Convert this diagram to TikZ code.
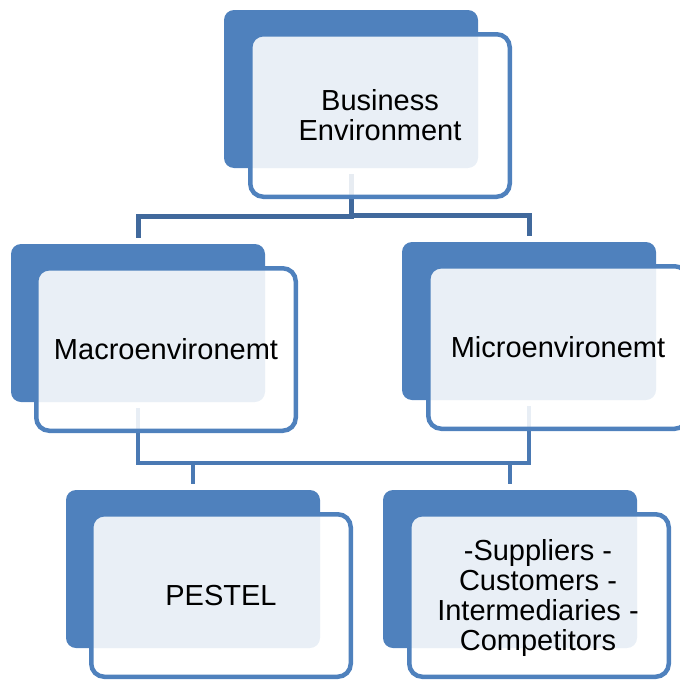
\documentclass[tikz,border=0pt]{standalone}
\usepackage{fontspec}
\setmainfont{Liberation Sans}
\definecolor{accent}{HTML}{4F81BD}
\definecolor{conntop}{HTML}{41699C}
\definecolor{connbot}{HTML}{4A79B3}
\begin{document}
\begin{tikzpicture}[x=1pt,y=-1pt,
  backbox/.style={rectangle, fill=accent, rounded corners=10pt, inner sep=0pt, minimum width=254pt, minimum height=158pt},
  frontbox/.style={rectangle, draw=accent, line width=4.5pt, fill=white, fill opacity=0.88, text opacity=1, rounded corners=13pt, inner sep=0pt, minimum width=259.5pt, minimum height=162.5pt, align=center, font=\fontsize{29pt}{30pt}\selectfont},
  conn/.style={line width=5pt, draw=conntop},
  connb/.style={line width=4.5pt, draw=connbot}]
\useasboundingbox (0,0) rectangle (680,680);
% back boxes
\node[backbox] (tb) at (351,89) {};
\node[backbox] (mab) at (138,323) {};
\node[backbox] (mib) at (529,321) {};
\node[backbox] (pb) at (193,569) {};
\node[backbox] (sb) at (510,569) {};
% connectors
\draw[conn] ([yshift=-6pt]tb.south) -- ++(0,42.5) -| ([yshift=6pt]mab.north);
\draw[conn] ([yshift=-6pt]tb.south) -- ++(0,41) -| ([yshift=6pt]mib.north);
\coordinate (bus) at (0,463);
\draw[connb] ([yshift=-6pt]mab.south) -- (mab.south |- bus) -| ([yshift=-6pt]mib.south);
\draw[connb] ([yshift=6pt]pb.north) -- (pb.north |- bus);
\draw[connb] ([yshift=6pt]sb.north) -- (sb.north |- bus);
% front boxes
\node[frontbox] (tf) at (380,115.5) {Business\\Environment};
\node[frontbox] (maf) at (166,349.5) {Macroenvironemt};
\node[frontbox] (mif) at (558,347.5) {Microenvironemt};
\node[frontbox] (pf) at (221,595.5) {PESTEL};
\node[frontbox] (sf) at (539,595.5) {};
\node[align=center, font=\fontsize{29pt}{30pt}\selectfont] (st) at (538,597.5) {-Suppliers -\\Customers -\\Intermediaries -\\Competitors};
\end{tikzpicture}
\end{document}
